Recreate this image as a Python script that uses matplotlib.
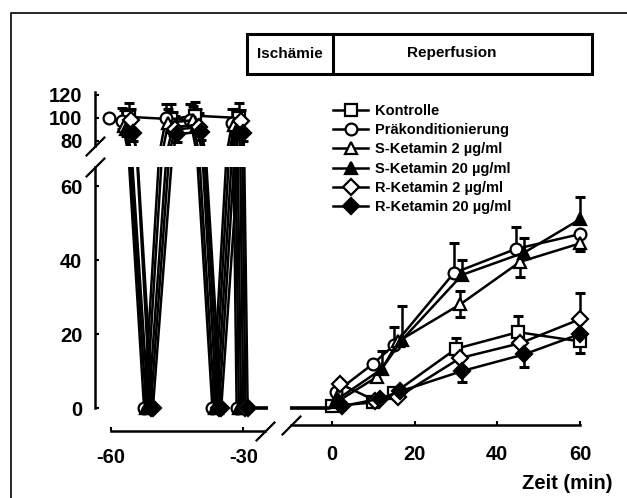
import matplotlib.pyplot as plt
import numpy as np
from matplotlib.lines import Line2D
from matplotlib.patches import Rectangle

plt.rcParams['font.family'] = ['Liberation Sans', 'DejaVu Sans']
plt.rcParams['font.weight'] = 'bold'
plt.rcParams['axes.unicode_minus'] = False

# end of index ischemia; every group is at 0 here (line vertex only, no marker)
ISCH_END = -0.5

# time (min) and value (%) per group: preconditioning cycles, index ischemia, reperfusion
kon_t = np.array([-56, -46.5, -41, -31, -30, ISCH_END, 0, 10, 15, 30, 45, 60])
kon_v = np.array([101, 99, 102, 100, 0, 0, 0.5, 1.5, 4, 16, 20.5, 18])
kon_up = np.array([12, 13, 12, 13, 0, 0, 0, 0, 0, 3, 4.5, 0])
kon_dn = np.array([0, 0, 6, 0, 0, 0, 0, 0, 0, 0, 0, 3])

pra_t = np.array([-60.5, -57.5, -52.5, -47.5, -42, -37, -32.5, -31.5, ISCH_END, 1, 10, 15, 29.5, 44.5, 60])
pra_v = np.array([100, 97, 0, 100, 98, 0, 96, 0, 0, 4.3, 12, 17, 36.5, 43, 47])
pra_up = np.array([0, 12, 0, 12, 14, 0, 12, 0, 0, 0, 0, 5, 8, 6, 0])
pra_dn = np.array([0, 7, 0, 0, 0, 0, 0, 0, 0, 0, 0, 0, 0, 0, 0])

s2_t = np.array([-57, -52, -47, -41.5, -36.5, -32, -31, ISCH_END, 1, 11, 16, 31, 45.5, 60])
s2_v = np.array([93, 0, 96, 98, 0, 94, 0, 0, 1.5, 8.5, 18, 28, 39.5, 44.5])
s2_up = np.array([14, 0, 12, 12, 0, 14, 0, 0, 0, 0, 0, 3.5, 0, 2])
s2_dn = np.array([0, 0, 0, 0, 0, 0, 0, 0, 0, 0, 0, 3.5, 4, 2])

s20_t = np.array([-56.5, -51.5, -46, -40.5, -36, -31.5, -30.5, ISCH_END, 1.5, 12, 17, 31.5, 46.5, 60])
s20_v = np.array([90, 0, 92, 94, 0, 90, 0, 0, 2.5, 10.5, 18.5, 36, 42, 51])
s20_up = np.array([14, 0, 13, 14, 0, 12, 0, 0, 0, 5, 9, 4, 4, 6])
s20_dn = np.array([6, 0, 7, 6, 0, 7, 0, 0, 0, 0, 0, 0, 0, 0])

r2_t = np.array([-55.5, -51, -45.5, -40, -35.5, -30.5, -29.5, ISCH_END, 2, 10.5, 16, 31, 45.5, 60])
r2_v = np.array([98, 0, 90, 92, 0, 97, 0, 0, 6.5, 2, 3, 13.5, 17.5, 24])
r2_up = np.array([10, 0, 12, 12, 0, 10, 0, 0, 0, 0, 0, 0, 0, 7])
r2_dn = np.array([0, 0, 6, 6, 0, 0, 0, 0, 0, 0, 0, 0, 0, 0])

r20_t = np.array([-55, -50.5, -45, -39.5, -35, -30, -29, ISCH_END, 2.5, 11.5, 16.5, 31.5, 46.5, 60])
r20_v = np.array([87, 0, 86, 88, 0, 87, 0, 0, 0.5, 2.5, 4.5, 10, 14.5, 20])
r20_up = np.zeros(14)
r20_dn = np.array([7, 0, 7, 7, 0, 7, 0, 0, 0, 0, 0, 3, 3.5, 0])

labels = ['Kontrolle', 'Präkonditionierung', 'S-Ketamin 2 µg/ml',
          'S-Ketamin 20 µg/ml', 'R-Ketamin 2 µg/ml', 'R-Ketamin 20 µg/ml']

groups = [
    (kon_t, kon_v, kon_up, kon_dn, 's', 'white'),
    (pra_t, pra_v, pra_up, pra_dn, 'o', 'white'),
    (s2_t, s2_v, s2_up, s2_dn, '^', 'white'),
    (s20_t, s20_v, s20_up, s20_dn, '^', 'black'),
    (r2_t, r2_v, r2_up, r2_dn, 'D', 'white'),
    (r20_t, r20_v, r20_up, r20_dn, 'D', 'black'),
]
line_kw = dict(color='k', lw=1.8, ms=8.5, mec='k', mew=1.6)

W, H = 627, 498
fig = plt.figure(figsize=(W / 100, H / 100), dpi=100)


def add_px_axes(left, top, right, bottom):
    return fig.add_axes([left / W, 1 - bottom / H, (right - left) / W, (bottom - top) / H])


ax_up = add_px_axes(98, 91.5, 267.5, 145.6)
ax_lo = add_px_axes(98, 167.5, 267.5, 419.1)
ax_re = add_px_axes(289.8, 167.5, 610.2, 419.1)

ax_up.set_xlim(-62.95, -24.5)
ax_up.set_ylim(76, 123)
ax_lo.set_xlim(-62.95, -24.5)
ax_lo.set_ylim(-3, 65)
ax_re.set_xlim(-10.2, 67.3)
ax_re.set_ylim(-3, 65)

for ax in (ax_up, ax_lo, ax_re):
    ax.patch.set_visible(False)
    for t, v, up, dn, m, fc in groups:
        hi = up > 0
        ax.vlines(t[hi], v[hi], v[hi] + up[hi], color='k', lw=1.8, zorder=2)
        ax.plot(t[hi], v[hi] + up[hi], ls='none', marker='_', ms=7, mew=2.2, color='k', zorder=2)
        lo = dn > 0
        ax.vlines(t[lo], v[lo] - dn[lo], v[lo], color='k', lw=1.8, zorder=2)
        ax.plot(t[lo], v[lo] - dn[lo], ls='none', marker='_', ms=7, mew=2.2, color='k', zorder=2)
        shown = np.flatnonzero(t != ISCH_END)
        ax.plot(t, v, marker=m, mfc=fc, markevery=list(shown), zorder=3, **line_kw)
    for s in ('top', 'right'):
        ax.spines[s].set_visible(False)
    for s in ax.spines.values():
        s.set_linewidth(1.8)
    ax.tick_params(direction='in', length=3, width=1.5, labelsize=14.5)
    ax.tick_params(axis='y', pad=9)

ax_up.spines['bottom'].set_visible(False)
ax_up.spines['left'].set_position(('outward', 2.2))
ax_up.set_yticks([80, 100, 120])
ax_up.set_xticks([])

ax_lo.spines['left'].set_position(('outward', 2.2))
ax_lo.spines['left'].set_bounds(0, 65)
ax_lo.spines['bottom'].set_position(('outward', 8.6))
ax_lo.spines['bottom'].set_bounds(-60, -25)
ax_lo.set_yticks([0, 20, 40, 60])
ax_lo.set_xticks([-60, -30])
ax_lo.tick_params(axis='x', pad=12.5)

ax_re.spines['left'].set_visible(False)
ax_re.spines['bottom'].set_position(('outward', 4.5))
ax_re.spines['bottom'].set_bounds(-10, 60)
ax_re.set_yticks([])
ax_re.set_xticks([0, 20, 40, 60])
ax_re.tick_params(axis='x', pad=14)


# axis break slashes
def slash(ax, side, pos):
    tr = ax.spines[side].get_spine_transform()
    xy = ([pos], [0]) if side == 'bottom' else ([0], [pos])
    ax.plot(*xy, transform=tr, ls='none', marker=[(-1, -1), (1, 1)], ms=14,
            mew=1.6, color='k', clip_on=False)


slash(ax_up, 'left', 76)
slash(ax_lo, 'left', 65)
slash(ax_lo, 'bottom', -25)
slash(ax_re, 'bottom', -10)

handles = [Line2D([], [], marker=g[4], mfc=g[5], **line_kw) for g in groups]
fig.legend(handles, labels, loc='upper left', bbox_to_anchor=(333 / W, 1 - 104 / H),
           frameon=False, fontsize=10.5, handlelength=2.4, handletextpad=0.5,
           labelspacing=0.36, borderpad=0, borderaxespad=0, numpoints=1)

fig.text(612 / W, 1 - 483 / H, 'Zeit (min)', ha='right', va='center', fontsize=14.5)

# phase box above the plot
fig.add_artist(Rectangle((247 / W, 1 - 74 / H), 345 / W, 40 / H, transform=fig.transFigure,
                         fill=False, lw=2.2, ec='k'))
fig.add_artist(Line2D([333 / W, 333 / W], [1 - 74 / H, 1 - 34 / H], transform=fig.transFigure,
                      lw=2.2, color='k'))
fig.text(290 / W, 1 - 54 / H, 'Ischämie', ha='center', va='center', fontsize=11)
fig.text(452 / W, 1 - 53 / H, 'Reperfusion', ha='center', va='center', fontsize=11)

# outer frame
fig.add_artist(Line2D([10.5 / W, 10.5 / W, 1], [0, 1 - 12.7 / H, 1 - 12.7 / H],
                      transform=fig.transFigure, lw=1.2, color='k'))

fig.savefig('out.png', dpi=100)
